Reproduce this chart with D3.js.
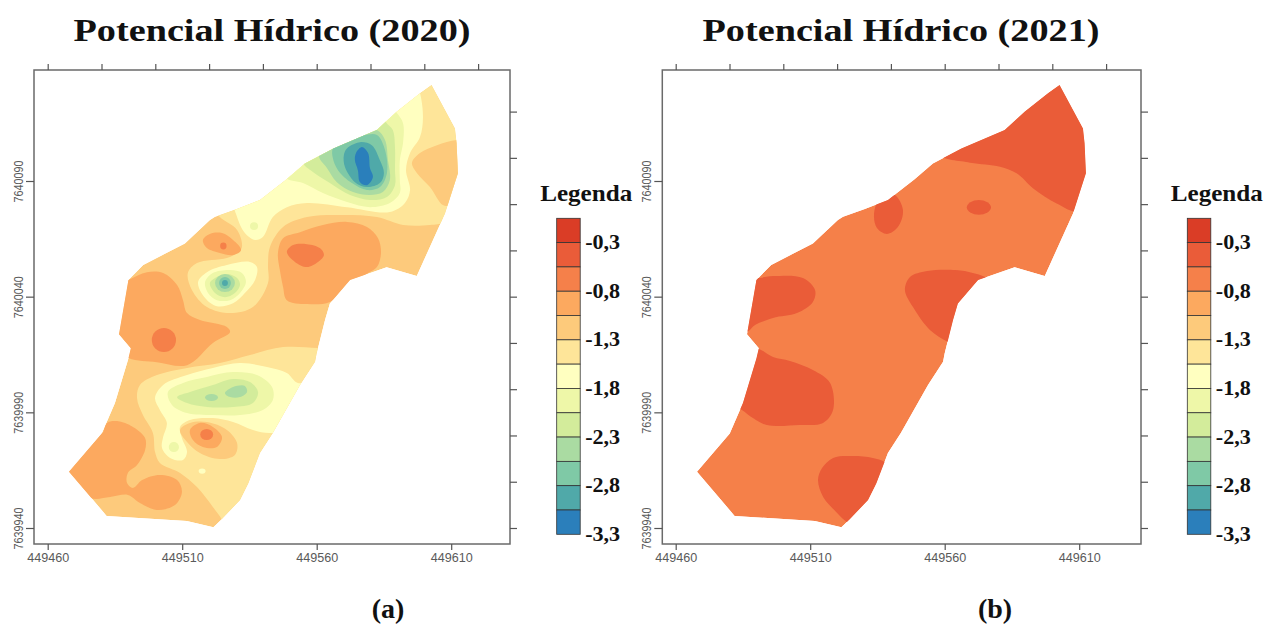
<!DOCTYPE html>
<html>
<head>
<meta charset="utf-8">
<script src="https://cdn.jsdelivr.net/npm/d3@7"></script>
<style>
body { margin: 0; background: #fff; overflow: hidden; }
</style>
</head>
<body>
<script>
// reference corner of the map grid, all rings below are metres east / north of it
var originE = 449460;
var originN = 7639940;

var xLabelTicks = [449460, 449510, 449560, 449610];
var xPlainTicks = [449460, 449480, 449500, 449520, 449540, 449560, 449580, 449600, 449620];
var yLabelTicks = [7639940, 7639990, 7640040, 7640090];
var yPlainTicks = [7639940, 7639960, 7639980, 7640000, 7640020, 7640040, 7640060, 7640080, 7640100, 7640120];

var legendLabels = ["-0,3", "-0,8", "-1,3", "-1,8", "-2,3", "-2,8", "-3,3"];
var classColors = ["#da3d26", "#ea5c39", "#f5804a", "#fca95f", "#fdca7b", "#fee599", "#ffffc0",
	"#eef7a8", "#d3ec9b", "#aadba2", "#7fc9a6", "#50a9a9", "#2b7fbb"];

// limit of the study area, the same in both years
var boundary = [[142.7,191.5],[151.4,172.7],[152.0,166.3],[152.5,153.3],[147.7,136.0],[137.2,108.9],[126.0,112.7],
	[112.4,107.2],[104.9,97.1],[103.1,89.9],[100.0,75.5],[99.4,71.9],[93.8,61.8],[83.7,41.1],[78.9,32.4],[74.6,19.3],
	[71.5,12.1],[64.7,3.8],[61.6,0.3],[51.7,3.0],[21.9,5.2],[16.4,12.8],[7.9,24.3],[20.1,40.9],[25.0,54.0],[30.0,73.3],
	[30.9,77.7],[26.5,83.8],[30.0,107.2],[35.5,113.7],[51.0,123.0],[60.3,133.1],[62.2,134.5],[70.3,137.9],[78.9,141.8],
	[88.8,150.8],[95.6,157.6],[106.2,164.1],[122.3,172.0],[129.7,179.9],[138.4,187.9]];

// 2020 bands
var north5 = [[142.8,197.9],[158.8,172.0],[158.8,141.8],[147.7,132.3],[142.1,131.0],[132.1,131.0],[122.4,134.4],[109.8,135.3],
	[96.4,134.4],[87.5,130.1],[82.6,121.4],[81.9,113.7],[81.9,105.9],[76.3,95.5],[67.8,92.9],[59.2,95.5],[53.6,102.9],
	[52.1,110.2],[55.5,114.5],[66.6,116.7],[70.4,118.9],[72.2,121.4],[70.4,128.8],[64.0,134.4],[60.3,139.6],[86.3,159.0],[138.4,197.9]];
var east4 = [[135.4,157.8],[138.4,162.1],[144.7,165.5],[152.1,167.7],[158.8,167.7],[158.8,152.6],[149.5,139.6],[146.9,139.6],[142.1,147.4],[137.3,153.4]];
var north6 = [[138.4,188.0],[139.5,177.6],[138.4,169.0],[134.7,162.1],[133.2,154.7],[134.7,146.1],[132.8,140.5],[127.2,136.6],
	[111.3,138.7],[96.4,140.5],[88.9,138.7],[83.7,134.4],[80.0,125.8],[77.1,124.5],[73.3,127.5],[70.4,134.4],[69.6,139.6],
	[78.9,148.2],[93.8,163.4],[123.5,182.8],[136.5,193.6]];
var north7 = [[129.8,179.4],[132.1,175.0],[132.1,166.4],[130.9,159.0],[130.9,150.4],[130.9,144.8],[127.2,140.5],[119.8,138.7],
	[111.3,140.9],[102.3,144.8],[94.9,149.1],[88.2,151.7],[90.1,163.4],[123.5,187.1]];
var north8 = [[125.7,175.5],[128.3,172.0],[129.1,164.7],[129.1,154.7],[129.1,148.2],[126.1,143.1],[119.8,141.8],[112.4,143.9],
	[104.9,149.1],[98.6,153.9],[94.9,158.2],[101.2,172.0],[123.5,182.8]];
var north9 = [[122.4,172.0],[125.4,167.7],[126.5,159.0],[127.2,150.4],[124.6,145.2],[119.8,143.9],[113.5,145.2],[107.5,149.5],
	[103.8,155.6],[100.8,161.2],[108.7,174.2]];
var north10 = [[117.2,169.9],[122.4,169.9],[125.4,163.4],[126.1,153.4],[123.5,147.4],[118.7,146.1],[113.1,149.1],[107.9,154.7],
	[106.0,159.9],[106.0,164.2],[110.5,169.9]];
var north11 = [[111.3,164.2],[116.1,166.8],[120.5,165.5],[123.5,159.0],[125.0,153.4],[123.5,149.1],[118.7,147.4],[114.2,149.5],[110.5,156.0],[110.1,161.2]];
var north12 = [[114.6,162.1],[116.8,164.7],[119.1,162.1],[119.8,155.6],[120.9,151.7],[118.7,148.2],[116.1,149.5],[115.3,154.7],[114.2,159.0]];
var centre3 = [[85.6,118.9],[87.5,125.3],[93.8,127.9],[102.3,131.0],[111.3,132.3],[118.7,130.1],[122.8,125.3],[123.9,118.9],[122.4,112.8],
	[119.1,110.2],[112.4,105.0],[104.9,97.7],[96.4,96.8],[88.9,98.5],[87.5,104.2],[86.3,111.5]];
var centre2 = [[88.9,119.3],[91.2,122.3],[96.4,122.7],[101.2,121.0],[102.7,118.0],[100.5,115.0],[96.4,112.8],[91.9,115.0]];
var west3 = [[30.0,107.2],[36.9,110.6],[42.9,110.2],[48.1,105.0],[50.3,98.5],[51.8,92.9],[56.6,89.9],[66.6,86.9],[67.8,84.7],[61.4,80.0],
	[51.8,70.4],[40.6,71.7],[30.0,73.5],[21.3,81.3],[23.2,102.9]];
var knob3 = [[57.7,124.5],[60.3,127.1],[64.8,127.5],[68.9,124.5],[71.9,120.2],[68.9,118.0],[64.0,118.9],[59.2,121.0]];
var ringLow6 = [[55.9,106.3],[59.2,110.6],[66.6,113.7],[75.2,115.0],[77.8,112.8],[77.1,107.2],[73.3,101.6],[68.9,97.2],[62.9,95.9],[58.5,99.4]];
var ringLow7 = [[58.5,106.3],[61.4,110.2],[67.8,111.5],[72.2,110.2],[73.7,106.3],[71.5,101.6],[67.8,98.5],[62.9,98.5],[59.6,101.6]];
var ringLow8 = [[60.3,105.9],[62.9,108.5],[66.6,109.8],[70.4,108.1],[71.5,105.0],[69.6,101.6],[65.9,99.8],[62.2,101.6]];
var south5 = [[100.5,77.8],[87.5,78.2],[75.2,74.8],[64.0,71.3],[51.8,69.2],[40.6,66.1],[34.3,61.8],[33.2,56.2],[35.4,48.8],[39.1,41.1],
	[39.9,32.8],[41.7,28.1],[49.2,23.8],[55.5,17.7],[61.4,9.1],[64.8,3.5],[65.9,-0.9],[77.1,-3.0],[93.8,38.0],[110.5,76.9]];
var southwest3 = [[20.2,41.1],[22.0,45.4],[25.8,46.2],[31.7,43.7],[36.2,38.9],[36.2,33.7],[33.2,27.2],[29.8,23.8],[29.5,19.4],[31.7,17.3],
	[35.1,20.7],[41.7,22.9],[48.1,20.7],[49.9,15.6],[47.3,9.9],[40.6,7.8],[34.3,10.8],[29.8,14.3],[23.2,13.4],[15.7,13.0],[4.6,25.1],[16.5,44.5]];
var south6 = [[93.0,62.7],[88.9,67.0],[81.5,69.6],[71.5,71.3],[61.4,69.2],[51.8,66.1],[42.9,61.8],[39.9,56.2],[41.7,51.0],[44.3,45.4],[42.9,39.3],
	[42.5,34.6],[45.5,30.3],[50.3,29.4],[51.8,32.8],[49.9,38.9],[49.2,43.7],[52.9,46.7],[61.4,47.5],[68.9,45.8],[76.3,42.4],[83.7,41.1],[97.5,46.7],[101.2,64.0]];
var south7 = [[44.7,58.8],[50.3,62.7],[59.2,65.3],[68.9,67.4],[77.8,66.1],[83.4,60.9],[83.7,55.3],[80.0,51.0],[71.5,48.8],[61.4,48.8],[51.8,49.7],[46.2,53.2]];
var south8 = [[48.1,56.6],[52.9,58.8],[61.4,61.8],[68.9,64.4],[75.2,63.1],[78.2,58.8],[76.3,54.0],[68.9,52.3],[59.2,52.3],[51.8,54.0]];
var south9 = [[65.9,58.3],[68.9,60.9],[73.3,61.4],[74.1,58.8],[71.5,56.6],[67.8,56.6]];
var pit4 = [[49.2,42.4],[52.9,45.4],[59.2,45.8],[66.6,42.4],[70.4,36.7],[69.6,31.6],[64.0,29.8],[56.6,32.4],[51.8,37.2]];
var pit3 = [[52.9,42.4],[56.6,45.4],[61.4,43.7],[64.8,39.3],[62.9,35.0],[57.7,35.0],[54.0,38.0]];

// small closed contours: class, east, north, half width, half height
var spots2020 = [
	[2, 43.2, 81.3, 4.5, 5.2], [2, 65.3, 121.9, 1.2, 1.5], [9, 60.9, 56.4, 2.4, 1.5], [2, 59.1, 40.4, 2.4, 2.4],
	[6, 57.4, 24.6, 1.3, 1.1], [7, 46.9, 35.0, 1.9, 2.2], [9, 65.9, 105.9, 3.7, 3.9], [10, 65.9, 105.9, 2.2, 2.6],
	[11, 65.9, 105.9, 1.1, 1.3], [7, 76.7, 130.5, 1.5, 1.7]
];

// 2021 bands
var ne1 = [[98.2,161.2],[109.4,157.9],[120.5,156.2],[126.7,153.3],[132.9,146.8],[141.6,140.3],[150.3,136.6],[161.4,146.1],[161.4,185.0],[142.8,197.9],[120.5,180.7],[102.0,167.7]];
var knob1 = [[81.5,143.9],[84.5,137.4],[82.6,130.1],[78.5,127.1],[74.8,129.7],[73.7,134.4],[74.8,140.5],[78.5,143.9]];
var mid1 = [[85.2,102.9],[87.1,108.5],[93.4,111.1],[104.2,111.5],[110.5,110.2],[116.1,107.6],[120.5,98.5],[107.5,76.9],[101.2,80.4],[94.5,85.6],[88.2,95.5]];
var nw1 = [[30.2,108.1],[36.2,108.9],[47.3,108.1],[51.8,102.9],[51.0,97.7],[45.1,92.9],[36.2,90.8],[29.5,87.7],[26.9,85.1],[22.0,85.6],[25.8,109.3]];
var w1 = [[31.0,77.4],[36.2,73.9],[42.5,72.2],[51.0,68.3],[57.4,62.7],[58.5,51.0],[54.8,45.4],[46.2,44.5],[33.9,44.5],[28.7,47.5],[24.6,51.0],[18.3,55.3],[25.8,79.1]];
var s1 = [[77.8,28.5],[73.3,30.3],[65.9,31.1],[58.5,30.3],[54.4,25.9],[52.9,20.7],[54.8,13.4],[60.0,6.5],[64.0,2.2],[72.2,-3.0],[85.2,20.7]];

var spots2021 = [[1, 112.7, 138.6, 4.5, 3.2]];

var layers2020 = [[5, north5], [4, east4], [6, north6], [7, north7], [8, north8], [9, north9], [10, north10], [11, north11], [12, north12],
	[3, centre3], [2, centre2], [6, ringLow6], [7, ringLow7], [8, ringLow8], [3, west3], [3, knob3], [5, south5], [3, southwest3],
	[6, south6], [7, south7], [8, south8], [9, south9], [4, pit4], [3, pit3]];
var layers2021 = [[1, ne1], [1, knob1], [1, mid1], [1, nw1], [1, w1], [1, s1]];

var w = 1269;
var h = 624;
var frameTop = 70;
var frameBottom = 544;

var svg = d3.select("body").append("svg")
	.attr("width", w)
	.attr("height", h);

// the source is a soft, upscaled raster
svg.append("filter").attr("id", "soft")
	.append("feGaussianBlur").attr("stdDeviation", 0.6);

drawPanel({ id: "p20", title: "Potencial Hídrico (2020)", titleX: 272, left: 34, right: 510, x0: 47.7,
	base: 4, layers: layers2020, spots: spots2020, legendX: 556.7, letter: "(a)", letterX: 388 });
drawPanel({ id: "p21", title: "Potencial Hídrico (2021)", titleX: 901, left: 662.3, right: 1141, x0: 675.7,
	base: 2, layers: layers2021, spots: spots2021, legendX: 1187.3, letter: "(b)", letterX: 995 });

function drawPanel(p) {
	var x = d3.scaleLinear().domain([449460, 449610]).range([p.x0, p.x0 + 403.5]);
	var y = d3.scaleLinear().domain([7639940, 7640090]).range([528, 181]);
	var px = function(d) { return x(originE + d[0]); };
	var py = function(d) { return y(originN + d[1]); };
	var g = svg.append("g");

	// map
	var straight = d3.line().x(px).y(py).curve(d3.curveLinearClosed);
	var smooth = d3.line().x(px).y(py).curve(d3.curveCatmullRomClosed.alpha(0.5));

	g.append("clipPath").attr("id", p.id).append("path").attr("d", straight(boundary));
	var map = g.append("g").attr("filter", "url(#soft)").append("g").attr("clip-path", "url(#" + p.id + ")");
	map.append("path").attr("d", straight(boundary)).attr("fill", classColors[p.base]);
	map.selectAll("path.band")
		.data(p.layers)
		.enter()
		.append("path")
			.attr("class", "band")
			.attr("d", function(d) { return smooth(d[1]); })
			.attr("fill", function(d) { return classColors[d[0]]; });
	map.selectAll("ellipse")
		.data(p.spots)
		.enter()
		.append("ellipse")
			.attr("cx", function(d) { return x(originE + d[1]); })
			.attr("cy", function(d) { return y(originN + d[2]); })
			.attr("rx", function(d) { return x(originE + d[3]) - x(originE); })
			.attr("ry", function(d) { return y(originN) - y(originN + d[4]); })
			.attr("fill", function(d) { return classColors[d[0]]; });

	// frame and ticks
	g.append("rect")
		.attr("x", p.left)
		.attr("y", frameTop)
		.attr("width", p.right - p.left)
		.attr("height", frameBottom - frameTop)
		.attr("fill", "none")
		.attr("stroke", "#6a6a6a")
		.attr("stroke-width", 1.5);

	addAxis(g, d3.axisTop(x).tickValues(xPlainTicks).tickFormat("").tickSize(6), 0, frameTop);
	addAxis(g, d3.axisRight(y).tickValues(yPlainTicks).tickFormat("").tickSize(7), p.right, 0);
	var bottom = addAxis(g, d3.axisBottom(x).tickValues(xLabelTicks).tickFormat(d3.format("d")).tickSize(6), 0, frameBottom);
	bottom.selectAll("text")
		.attr("y", 18)
		.attr("dy", 0)
		.attr("font-size", 12.5)
		.attr("textLength", 42)
		.attr("lengthAdjust", "spacingAndGlyphs");
	var left = addAxis(g, d3.axisLeft(y).tickValues(yLabelTicks).tickFormat(d3.format("d")).tickSize(8), p.left, 0);
	left.selectAll("text")
		.attr("transform", "rotate(-90)")
		.attr("x", 0)
		.attr("y", -11)
		.attr("dy", 0)
		.attr("text-anchor", "middle")
		.attr("font-size", 13)
		.attr("textLength", 42)
		.attr("lengthAdjust", "spacingAndGlyphs");

	// titles
	g.append("text")
		.text(p.title)
		.attr("x", p.titleX)
		.attr("y", 41)
		.attr("text-anchor", "middle")
		.attr("font-family", "Liberation Serif")
		.attr("font-weight", "bold")
		.attr("font-size", 32)
		.attr("textLength", 397)
		.attr("lengthAdjust", "spacingAndGlyphs")
		.attr("fill", "#111");
	g.append("text")
		.text(p.letter)
		.attr("x", p.letterX)
		.attr("y", 618)
		.attr("text-anchor", "middle")
		.attr("font-family", "Liberation Serif")
		.attr("font-weight", "bold")
		.attr("font-size", 28)
		.attr("fill", "#111");

	drawLegend(g, p.legendX);
}

function addAxis(g, axis, dx, dy) {
	var a = g.append("g")
		.attr("transform", "translate(" + dx + "," + dy + ")")
		.call(axis);
	a.select(".domain").remove();
	a.selectAll("line").attr("stroke", "#555").attr("stroke-width", 1.2);
	a.selectAll("text")
		.attr("font-family", "Liberation Sans")
		.attr("fill", "#5a5a5a");
	return a;
}

function drawLegend(g, lx) {
	var band = d3.scaleBand().domain(d3.range(classColors.length)).range([218.3, 534.3]);
	var boxW = 23.5;

	g.append("text")
		.text("Legenda")
		.attr("x", lx - 16.5)
		.attr("y", 201)
		.attr("font-family", "Liberation Serif")
		.attr("font-weight", "bold")
		.attr("font-size", 23)
		.attr("textLength", 92)
		.attr("lengthAdjust", "spacingAndGlyphs")
		.attr("fill", "#111");

	g.selectAll("rect.cls")
		.data(classColors)
		.enter()
		.append("rect")
			.attr("class", "cls")
			.attr("x", lx)
			.attr("y", function(d, i) { return band(i); })
			.attr("width", boxW)
			.attr("height", band.bandwidth())
			.attr("fill", function(d) { return d; })
			.attr("stroke", "#333")
			.attr("stroke-width", 0.8);

	// a label on every second class edge
	g.selectAll("text.lab")
		.data(legendLabels)
		.enter()
		.append("text")
			.attr("class", "lab")
			.text(function(d) { return d; })
			.attr("x", lx + 28.5)
			.attr("y", function(d, i) { return band(0) + band.bandwidth() * (i * 2 + 1) + 6.5; })
			.attr("font-family", "Liberation Serif")
			.attr("font-weight", "bold")
			.attr("font-size", 20)
			.attr("textLength", 35)
			.attr("lengthAdjust", "spacingAndGlyphs")
			.attr("fill", "#111");
}
</script>
</body>
</html>
